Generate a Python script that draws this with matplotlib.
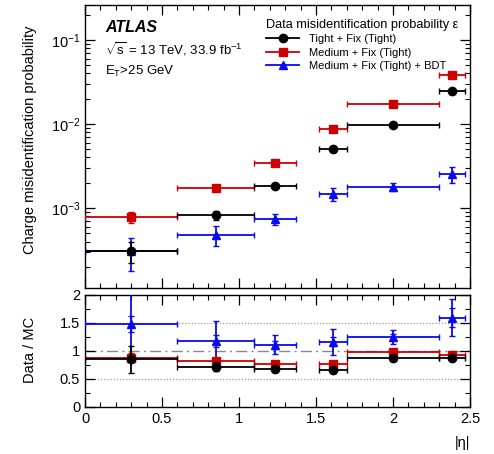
import matplotlib
matplotlib.use("Agg")
import matplotlib.pyplot as plt
from matplotlib.ticker import MultipleLocator, LogLocator, NullFormatter
from matplotlib.lines import Line2D
import numpy as np

plt.rcParams['font.family'] = ['Liberation Sans', 'DejaVu Sans']
plt.rcParams['mathtext.fontset'] = 'custom'
plt.rcParams['mathtext.rm'] = 'Liberation Sans'
plt.rcParams['mathtext.it'] = 'Liberation Sans:italic'

# bins in |eta|
eta_lo = [0.0, 0.6, 1.1, 1.52, 1.7, 2.3]
eta_hi = [0.6, 1.1, 1.37, 1.7, 2.3, 2.47]
eta_pt = [0.3, 0.85, 1.235, 1.61, 2.0, 2.385]

# data misidentification probability
tight = [3.1e-4, 8.2e-4, 1.85e-3, 5.0e-3, 9.7e-3, 2.45e-2]
tight_err = [0.85e-4, 1.05e-4, 0.9e-4, 2.5e-4, 3e-4, 1.5e-3]
medium = [7.8e-4, 1.73e-3, 3.45e-3, 8.8e-3, 1.75e-2, 3.8e-2]
medium_err = [1.15e-4, 0.8e-4, 1.5e-4, 4e-4, 6e-4, 2e-3]
bdt = [3.1e-4, 4.8e-4, 7.4e-4, 1.48e-3, 1.77e-3, 2.55e-3]
bdt_err = [1.3e-4, 1.3e-4, 1.1e-4, 2.7e-4, 1.9e-4, 5.5e-4]

# data / MC ratio
tight_r = [0.85, 0.72, 0.67, 0.66, 0.88, 0.87]
tight_r_err = [0.24, 0.08, 0.05, 0.05, 0.05, 0.05]
medium_r = [0.88, 0.83, 0.77, 0.765, 0.975, 0.935]
medium_r_err = [0.08, 0.05, 0.04, 0.04, 0.04, 0.04]
bdt_r = [1.48, 1.18, 1.11, 1.165, 1.25, 1.59]
bdt_r_err = [0.55, 0.36, 0.17, 0.23, 0.13, 0.33]
bdt_r_stat = [0.14, 0.10, 0.07, 0.08, 0.05, 0.17]

labels = ["Tight + Fix (Tight)", "Medium + Fix (Tight)", "Medium + Fix (Tight) + BDT"]
colors = ["black", "#cc0000", "#0a0aee"]
markers = ["o", "s", "^"]
msizes = [6, 6, 5.5]

W, H = 494, 454
fig = plt.figure(figsize=(W / 100, H / 100), dpi=100)
ax1 = fig.add_axes([85 / W, 1 - 288 / H, 385 / W, 283 / H])
ax2 = fig.add_axes([85 / W, 1 - 407 / H, 385 / W, 112 / H])

x = np.array(eta_pt)
xerr = np.array([x - np.array(eta_lo), np.array(eta_hi) - x])

series = [(tight, tight_err, tight_r, tight_r_err, None),
          (medium, medium_err, medium_r, medium_r_err, None),
          (bdt, bdt_err, bdt_r, bdt_r_err, bdt_r_stat)]
order = [2, 1, 0]
for i in order:
    v, e, r, re, rs = series[i]
    ax1.errorbar(x, v, yerr=e, xerr=xerr, fmt=markers[i], color=colors[i],
                 ms=msizes[i], lw=1.3, capsize=2.2, capthick=1.0, zorder=3 + (2 - i))
    ax2.errorbar(x, r, yerr=re, xerr=xerr, fmt=markers[i], color=colors[i],
                 ms=msizes[i], lw=1.3, capsize=2.2, capthick=1.0, zorder=3 + (2 - i))
    if rs is not None:
        ax2.errorbar(x, r, yerr=rs, fmt='none', ecolor=colors[i], lw=1.0,
                     capsize=2.2, capthick=1.0, zorder=3)

ax1.set_yscale('log')
ax1.set_ylim(1.12e-4, 0.26)
ax1.set_xlim(0, 2.5)
ax2.set_xlim(0, 2.5)
ax2.set_ylim(0, 2)

ax2.axhline(1.0, color='#888888', lw=1.0, ls=(0, (8, 3, 1.5, 3)), zorder=1)
for yv in (0.5, 1.5):
    ax2.axhline(yv, color='#999999', lw=0.9, ls=(0, (1, 1.5)), zorder=1)

for ax in (ax1, ax2):
    ax.tick_params(which='both', direction='in', top=True, right=True, labelsize=10.5)
    ax.tick_params(which='major', length=7, width=0.9)
    ax.tick_params(which='minor', length=3.5, width=0.8)
    ax.xaxis.set_major_locator(MultipleLocator(0.5))
    ax.xaxis.set_minor_locator(MultipleLocator(0.1))
    for s in ax.spines.values():
        s.set_linewidth(1.0)

ax1.tick_params(labelbottom=False)
ax1.yaxis.set_major_locator(LogLocator(base=10, numticks=10))
ax1.yaxis.set_minor_locator(LogLocator(base=10, subs=np.arange(2, 10), numticks=20))
ax1.yaxis.set_minor_formatter(NullFormatter())
ax2.yaxis.set_minor_locator(MultipleLocator(0.25))
ax2.set_yticks([0, 0.5, 1, 1.5, 2])
ax2.set_yticklabels(["0", "0.5", "1", "1.5", "2"])
ax2.set_xticks([0, 0.5, 1, 1.5, 2, 2.5])
ax2.set_xticklabels(["0", "0.5", "1", "1.5", "2", "2.5"])

fig.text(30 / W, 1 - 140 / H, "Charge misidentification probability", rotation=90,
         ha='center', va='center', fontsize=10.5)
fig.text(30 / W, 1 - 350 / H, "Data / MC", rotation=90, ha='center', va='center', fontsize=10.5)
fig.text(470 / W, 1 - 443 / H, "|η|", ha='right', va='center', fontsize=10.5)

fig.text(105 / W, 1 - 32 / H, "ATLAS", fontsize=11.5,
         fontweight='bold', style='italic', ha='left', va='baseline')
fig.text(105 / W, 1 - 55 / H, r"$\sqrt{\mathrm{s}}$ = 13 TeV, 33.9 fb$^{\mathrm{-1}}$",
         fontsize=9.5, ha='left', va='baseline')
fig.text(105 / W, 1 - 75 / H, r"E$_{\mathrm{T}}$>25 GeV", fontsize=9.5,
         ha='left', va='baseline')

handles = [Line2D([0], [0], color=colors[i], marker=markers[i], ms=msizes[i], lw=1.3)
           for i in range(3)]
leg = ax1.legend(handles, labels,
                 title="Data misidentification probability ε",
                 loc='upper left', bbox_to_anchor=(266 / W, 1 - 19 / H),
                 bbox_transform=fig.transFigure, frameon=False,
                 fontsize=8.0, title_fontsize=9.2, handlelength=3.0,
                 handletextpad=0.9, labelspacing=0.3, borderpad=0, borderaxespad=0)
leg._legend_box.align = "left"

fig.savefig("out.png", dpi=100)
